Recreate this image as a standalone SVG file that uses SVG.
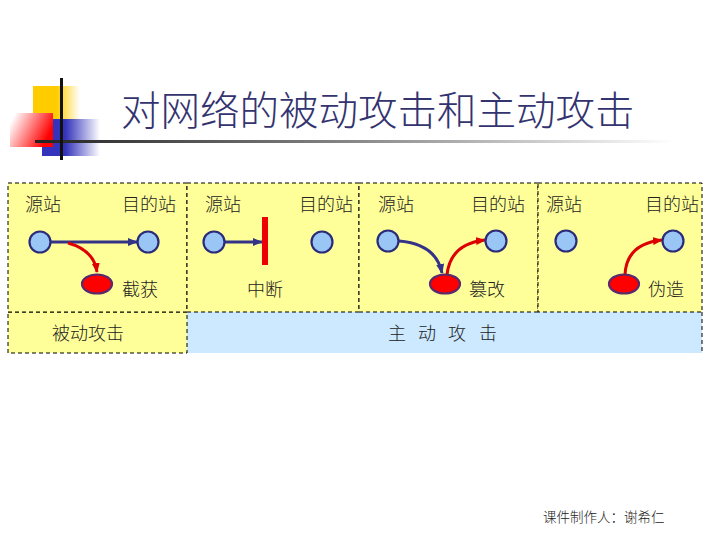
<svg xmlns="http://www.w3.org/2000/svg" width="720" height="540" viewBox="0 0 720 540">
<style>
.t{font-family:"Noto Sans CJK SC","Noto Sans",sans-serif;fill:#222;font-weight:300;}
.lbl{font-size:18px;}
.title{font-family:"Noto Sans CJK SC",sans-serif;font-size:39.5px;fill:#333370;font-weight:300;}
.panel{fill:#ffff99;stroke:#000;stroke-width:1;stroke-dasharray:4 3;}
.st{fill:#99c6f5;stroke:#2b2b7a;stroke-width:2.2;}
.bad{fill:#ff0000;stroke:#5a2a6a;stroke-width:2.2;}
.nv{fill:none;stroke:#333388;stroke-width:3;}
.rd{fill:none;stroke:#dd0000;stroke-width:3;}
.dash{fill:none;stroke:#000;stroke-width:1;stroke-dasharray:4 3;}
</style>
<defs>
<marker id="an" markerWidth="10" markerHeight="8" refX="9" refY="4" orient="auto" markerUnits="userSpaceOnUse"><path d="M0,0 L10,4 L0,8 z" fill="#333388"/></marker>
<marker id="ar" markerWidth="10" markerHeight="8" refX="9" refY="4" orient="auto" markerUnits="userSpaceOnUse"><path d="M0,0 L10,4 L0,8 z" fill="#dd0000"/></marker>
<linearGradient id="gy" x1="0" y1="0" x2="1" y2="0"><stop offset="0.5" stop-color="#ffcc00"/><stop offset="1" stop-color="#ffcc00" stop-opacity="0"/></linearGradient>
<linearGradient id="gb" x1="0" y1="0" x2="1" y2="0"><stop offset="0.4" stop-color="#3333bb"/><stop offset="1" stop-color="#3333bb" stop-opacity="0"/></linearGradient>
<linearGradient id="gr" x1="0" y1="0.3" x2="1" y2="0.7"><stop offset="0" stop-color="#ffffff"/><stop offset="0.9" stop-color="#ff0000"/></linearGradient>
<linearGradient id="gl" x1="0" y1="0" x2="1" y2="0"><stop offset="0" stop-color="#222222"/><stop offset="0.5" stop-color="#888888"/><stop offset="1" stop-color="#ffffff"/></linearGradient>
</defs>
<rect width="720" height="540" fill="#ffffff"/>
<g id="decor">
<rect x="33" y="86" width="47" height="34" fill="url(#gy)"/>
<rect x="42" y="119" width="58" height="37" fill="url(#gb)"/>
<rect x="10" y="113" width="43" height="34" fill="url(#gr)"/>
<rect x="35" y="140" width="640" height="3" fill="url(#gl)"/>
<rect x="60" y="78" width="3" height="82" fill="#111111"/>
</g>
<text class="title" x="121" y="125">对网络的被动攻击和主动攻击</text>
<g id="backgrounds">
<rect x="187" y="312" width="515" height="41" fill="#cce9ff"/>
<line class="dash" x1="702" y1="312" x2="702" y2="353"/>
<rect class="panel" x="8" y="312" width="179" height="41"/>
<rect class="panel" x="8" y="183" width="179" height="129"/>
<rect class="panel" x="187" y="183" width="172" height="129"/>
<rect class="panel" x="359" y="183" width="179" height="129"/>
<rect class="panel" x="538" y="183" width="164" height="129"/>
</g>
<g id="connectors">
<line class="nv" x1="51" y1="242" x2="137" y2="242" marker-end="url(#an)"/>
<path class="rd" d="M68,243 Q94,250 97,272" marker-end="url(#ar)"/>
<line class="nv" x1="224" y1="242" x2="262" y2="242" marker-end="url(#an)"/>
<path class="nv" d="M399,241 Q436,244 442,273" marker-end="url(#an)"/>
<path class="rd" d="M447,275 Q450,244 485,240" marker-end="url(#ar)"/>
<path class="rd" d="M625,275 Q626,244 662,240" marker-end="url(#ar)"/>
</g>
<g id="panel1">
<text class="t lbl" x="25" y="211">源站</text>
<text class="t lbl" x="122" y="211">目的站</text>
<circle id="p1-src" class="st" cx="40" cy="242" r="10.5"/>
<circle id="p1-dst" class="st" cx="148" cy="242" r="10.5"/>
<ellipse id="p1-bad" class="bad" cx="97" cy="284" rx="15" ry="9.5"/>
<text class="t lbl" x="122" y="296">截获</text>
</g>
<g id="panel2">
<text class="t lbl" x="205" y="211">源站</text>
<text class="t lbl" x="299" y="211">目的站</text>
<circle id="p2-src" class="st" cx="214" cy="242" r="10.5"/>
<rect id="p2-bar" x="262" y="217" width="6" height="48" fill="#ee0000"/>
<circle id="p2-dst" class="st" cx="322" cy="242" r="10.5"/>
<text class="t lbl" x="247" y="296">中断</text>
</g>
<g id="panel3">
<text class="t lbl" x="378" y="211">源站</text>
<text class="t lbl" x="471" y="211">目的站</text>
<circle id="p3-src" class="st" cx="388" cy="241" r="10.5"/>
<circle id="p3-dst" class="st" cx="496" cy="241" r="10.5"/>
<ellipse id="p3-bad" class="bad" cx="445" cy="284" rx="15" ry="9.5"/>
<text class="t lbl" x="469" y="296">篡改</text>
</g>
<g id="panel4">
<text class="t lbl" x="546" y="211">源站</text>
<text class="t lbl" x="645" y="211">目的站</text>
<circle id="p4-src" class="st" cx="566" cy="241" r="10.5"/>
<circle id="p4-dst" class="st" cx="673" cy="241" r="10.5"/>
<ellipse id="p4-bad" class="bad" cx="624" cy="284" rx="15" ry="9.5"/>
<text class="t lbl" x="648" y="296">伪造</text>
</g>
<g id="categories">
<text class="t lbl" x="52" y="340">被动攻击</text>
<text class="t lbl" y="340"><tspan x="388">主</tspan><tspan x="418">动</tspan><tspan x="448">攻</tspan><tspan x="479">击</tspan></text>
</g>
<text class="t" x="543" y="522" font-size="13.5" fill="#000" font-weight="400">课件制作人：谢希仁</text>
</svg>
